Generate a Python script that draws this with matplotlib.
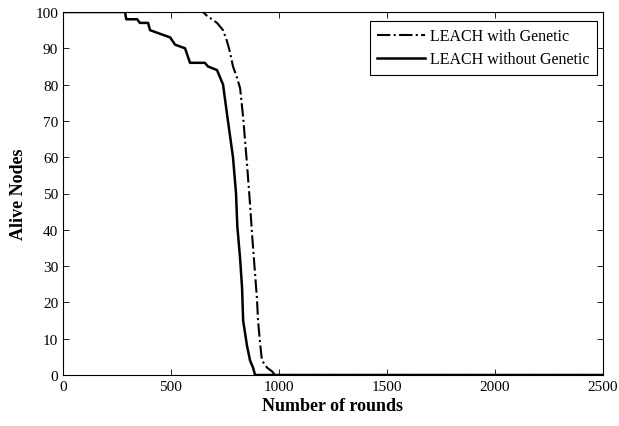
import matplotlib
matplotlib.use("Agg")
import matplotlib.pyplot as plt

# Data
rounds_without = [0, 287, 293, 343, 356, 394, 403, 449, 496, 519, 565, 588, 657, 671, 713, 727,
                  741, 759, 773, 787, 801, 807, 820, 829, 834, 852, 866, 880, 889, 2500]
alive_without = [100, 100, 98, 98, 97, 97, 95, 94, 93, 91, 90, 86, 86, 85, 84, 82,
                 80, 72, 66, 60, 50, 41, 32, 24, 15, 8, 4, 2, 0, 0]

rounds_with = [0, 648, 666, 713, 741, 759, 773, 787, 805, 820, 834, 852, 866, 875, 889, 898,
               903, 912, 921, 945, 968, 981, 2500]
alive_with = [100, 100, 99, 97, 95, 92, 89, 85, 82, 79, 71, 58, 47, 39, 28, 21,
              15, 9, 4, 2, 1, 0, 0]

x_ticks = [0, 500, 1000, 1500, 2000, 2500]
y_ticks = list(range(0, 101, 10))

plt.rcParams['font.family'] = ['Liberation Serif', 'DejaVu Serif']

fig = plt.figure(figsize=(6.19, 4.27), dpi=100)
ax = fig.add_axes([63/619, 51/427, 540/619, 363/427])

ax.plot(rounds_with, alive_with, color='black', linestyle='-.', linewidth=1.5,
        label='LEACH with Genetic')
ax.plot(rounds_without, alive_without, color='black', linestyle='-', linewidth=1.8,
        label='LEACH without Genetic')

ax.set_xlim(0, 2500)
ax.set_ylim(0, 100)
ax.set_xticks(x_ticks)
ax.set_yticks(y_ticks)
ax.tick_params(direction='in', top=True, right=True, length=4, width=0.6, labelsize=11)
for s in ax.spines.values():
    s.set_linewidth(0.8)

ax.set_xlabel('Number of rounds', fontsize=13, fontweight='bold', labelpad=3)
ax.set_ylabel('Alive Nodes', fontsize=13, fontweight='bold', labelpad=6)

leg = ax.legend(loc='upper right', bbox_to_anchor=((597-63)/540, 1-(22-13)/363),
                borderaxespad=0, fancybox=False, edgecolor='black', framealpha=1,
                fontsize=11.5, handlelength=3.0, handletextpad=0.35, borderpad=0.45,
                labelspacing=0.45)
leg.get_frame().set_linewidth(0.8)

fig.savefig('out.png', dpi=100)
